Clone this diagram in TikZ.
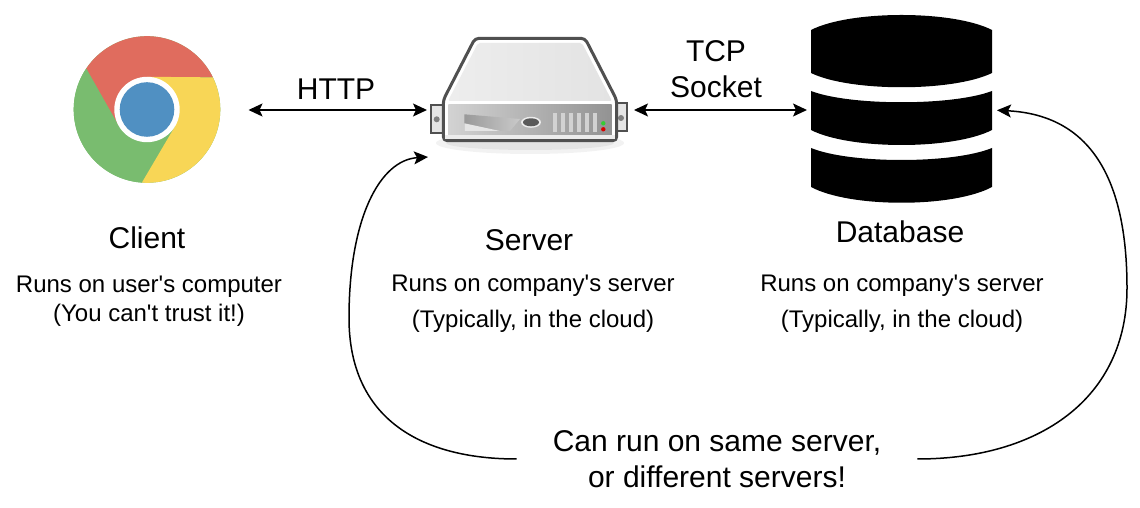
\documentclass[tikz,border=0pt]{standalone}
\usepackage{fontspec}
\setmainfont{Liberation Sans}[Ligatures=TeXOff]
\usetikzlibrary{arrows.meta}
\definecolor{chromered}{HTML}{E06C5E}
\definecolor{chromegreen}{HTML}{79BC6F}
\definecolor{chromeyellow}{HTML}{F8D656}
\definecolor{chromeblue}{HTML}{5090C2}
\definecolor{casing}{HTML}{505050}
\tikzset{
	icon/.style={inner sep=0pt,outer sep=0pt},
	title/.style={inner sep=0pt,align=center,font=\fontsize{30}{36}\selectfont},
	desc/.style={inner sep=0pt,align=center,font=\fontsize{24}{29}\selectfont},
	link/.style={line width=1.5pt,{Stealth[length=14pt,width=13pt,inset=3pt]}-{Stealth[length=14pt,width=13pt,inset=3pt]}},
	curved/.style={line width=1.5pt,-{Stealth[length=14pt,width=13pt,inset=3pt]}}
}
\begin{document}
\begin{tikzpicture}[x=1pt,y=1pt]
	\useasboundingbox (0,0) rectangle (1140,508);

	% client
	\fill[chromegreen] (147,398.5) circle (73.3);
	\foreach \a/\c in {26/chromered,146/chromegreen,266/chromeyellow}
		\fill[\c] (147,398.5) ++(\a:73.3) arc (\a:\a+120:73.3) -- ([shift={(\a+184:32.7)}]147,398.5) -- (147,398.5) -- ([shift={(\a+64:32.7)}]147,398.5) -- cycle;
	\fill[white] (147,398.5) circle (32.7);
	\fill[chromeblue] (147,398.5) circle (27.3);

	% server
	\fill[black,opacity=0.05] (530,365) ellipse (94 and 11);
	\fill[black,opacity=0.06] (530,365) ellipse (84 and 7);
	\draw[casing,line width=2pt,fill=gray!20] (431,403) rectangle (444,375.3);
	\draw[casing,line width=2pt,fill=gray!20] (616,404.7) rectangle (627.3,377);
	\fill[gray] (436.7,388.7) circle (3);
	\fill[gray] (621,390) circle (3);
	\draw[casing,line width=3pt,rounded corners=4pt,fill=white] (475,469.7) -- (585,469.7) -- (616.7,408) -- (616.7,367.3) -- (443.3,367.3) -- (443.3,408) -- cycle;
	\shade[left color=gray!14,right color=gray!22,rounded corners=2pt] (478,465) -- (582,465) -- (612,407) -- (448,407) -- cycle;
	\shade[left color=gray!35,right color=gray!85] (448.3,403) rectangle (611.7,372.7);
	\fill[gray!15] (445,372.7) rectangle (615,369);
	\shade[left color=gray!80,right color=gray!42] (464.3,393.7) -- (520,389) -- (510,377) -- (464.3,377) -- cycle;
	\fill[gray!20] (464.3,384.7) -- (500,377) -- (464.3,377) -- cycle;
	\fill[gray!15] (531,385.7) ellipse (10 and 5.5);
	\fill[gray!70!black] (531,385.7) ellipse (8 and 4);
	\foreach \i in {0,...,5}
		\fill[gray!35] (553.3+8*\i,394.7) rectangle (557+8*\i,375.7);
	\fill[green!60!gray] (603.3,384.7) circle (2.2);
	\fill[red!85!black] (603.3,378.7) circle (2.2);

	% database
	\fill[black] (811,478) .. controls (850,498) and (953,498) .. (992,478) -- (992,435) .. controls (953,416) and (850,416) .. (811,435) -- cycle;
	\fill[black] (811,417) .. controls (850,402) and (953,402) .. (992,417) -- (992,378) .. controls (953,358) and (850,358) .. (811,378) -- cycle;
	\fill[black] (811,360) .. controls (850,344) and (953,344) .. (992,360) -- (992,321) .. controls (953,300) and (850,300) .. (811,321) -- cycle;

	\node[icon,minimum width=147pt,minimum height=147pt] (client) at (147,398) {};
	\node[icon,minimum width=196pt,minimum height=40pt] (server) at (529,398) {};
	\node[icon,minimum width=181pt,minimum height=188pt] (db) at (901.5,398) {};
	\coordinate (serverfoot) at (428,351);

	\node[title] (clientname) at (147,270) {Client};
	\node[desc] (clientnote) at (149,207) {Runs on user's computer\\(You can't trust it!)};
	\node[title] (servername) at (529,268) {Server};
	\node[desc,font=\fontsize{24}{36}\selectfont] (servernote) at (533,204) {Runs on company's server\\(Typically, in the cloud)};
	\node[title] (dbname) at (900,276) {Database};
	\node[desc,font=\fontsize{24}{36}\selectfont] (dbnote) at (902,204) {Runs on company's server\\(Typically, in the cloud)};
	\node[title] (http) at (336,419) {HTTP};
	\node[title] (tcp) at (716,439) {TCP\\Socket};
	\node[title,inner xsep=36pt] (note) at (717,49) {Can run on same server,\\or different servers!};

	\draw[link,shorten <=28pt,shorten >=4pt] (client.east) -- (server.west);
	\draw[link,shorten <=7pt,shorten >=4pt] (server.east) -- (db.west);
	\draw[curved] (note.west) .. controls (420,49) and (349,90) .. (349,190) .. controls (349,290) and (380,348) .. (serverfoot);
	\draw[curved,shorten >=5pt] (note.east) .. controls (1040,49) and (1127,110) .. (1127,220) .. controls (1127,330) and (1090,393) .. (db.east);
\end{tikzpicture}
\end{document}
